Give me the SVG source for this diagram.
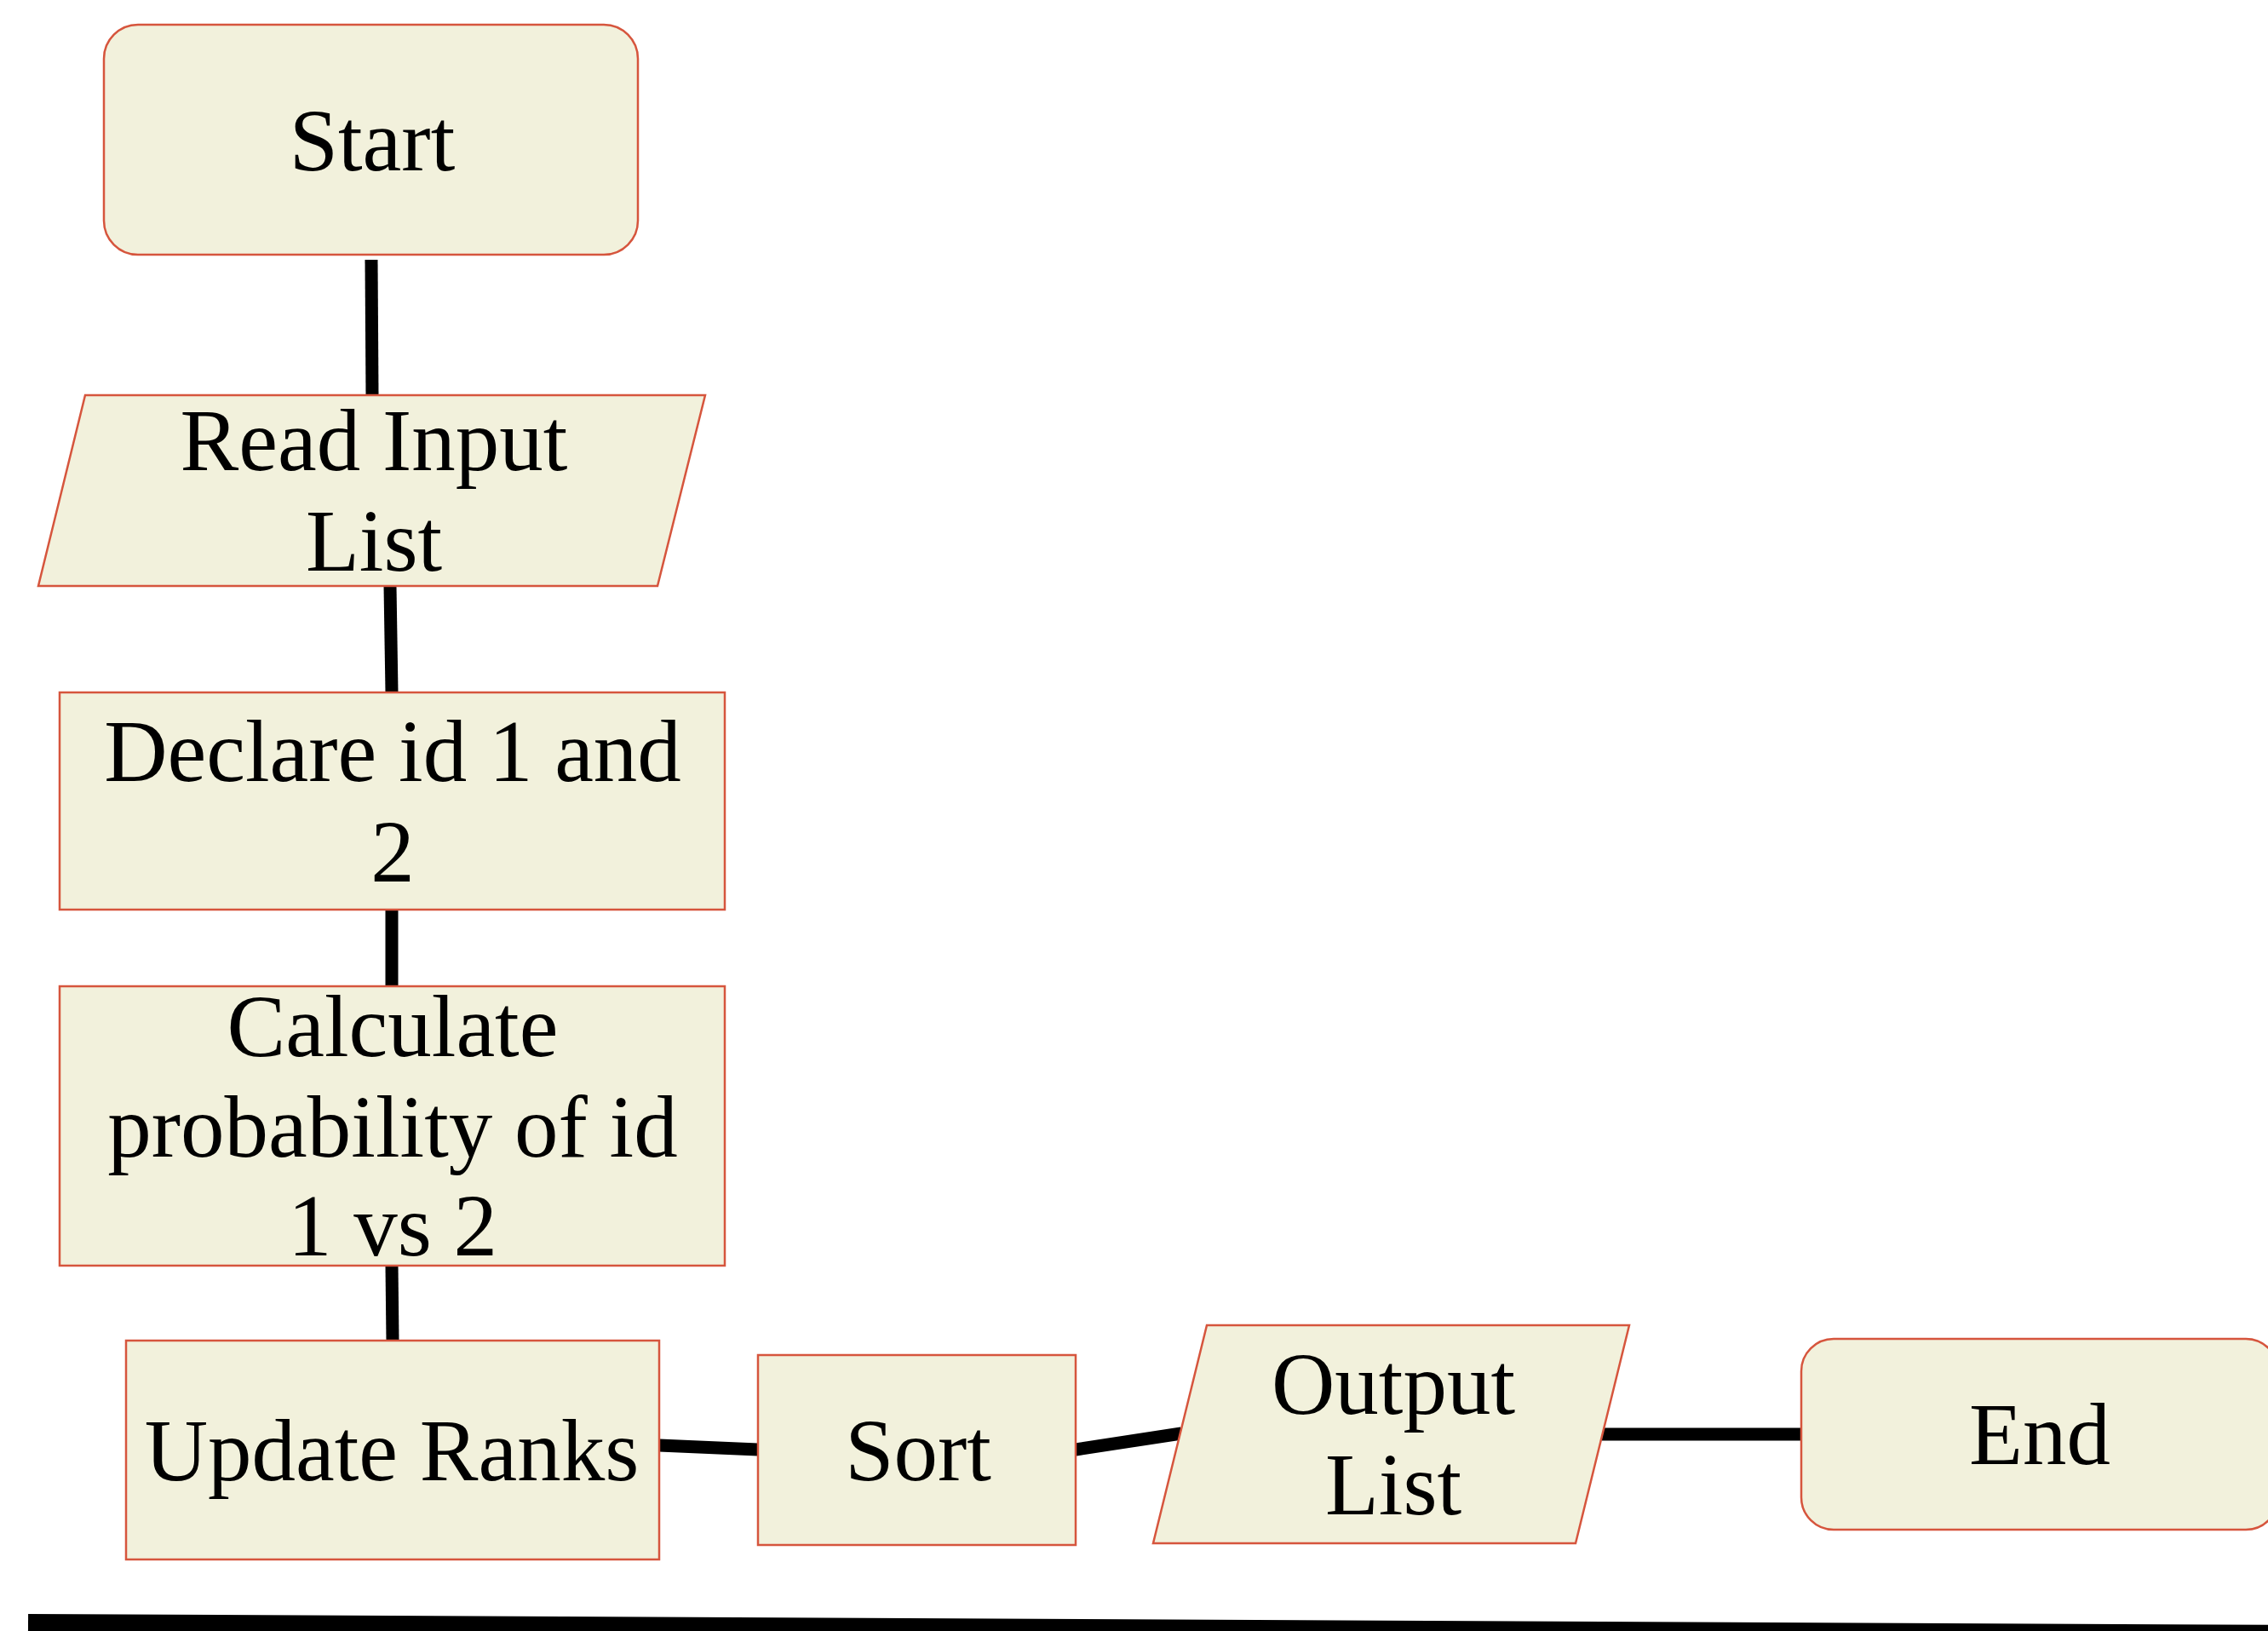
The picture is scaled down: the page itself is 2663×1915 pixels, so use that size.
<svg xmlns="http://www.w3.org/2000/svg" width="2663" height="1915" viewBox="0 0 2663 1915">
<style>
.n{fill:#F2F1DC;stroke:#D6553D;stroke-width:2.5}
.t{font-family:"Liberation Serif","Times New Roman",serif;font-size:103px;fill:#000;text-anchor:middle}
.c{stroke:#000;stroke-width:15;fill:none}
</style>
<rect width="2663" height="1915" fill="#fff"/>
<g id="connectors">
<line class="c" x1="436" y1="305" x2="437" y2="464"/>
<line class="c" x1="458" y1="688" x2="460" y2="813"/>
<line class="c" x1="460" y1="1068" x2="460" y2="1158"/>
<line class="c" x1="460" y1="1486" x2="461" y2="1574"/>
<line class="c" x1="774" y1="1697" x2="890" y2="1702"/>
<line class="c" x1="1263" y1="1702" x2="1387" y2="1683"/>
<line class="c" x1="1881" y1="1684" x2="2115" y2="1684"/>
<line stroke="#000" stroke-width="30" x1="33" y1="1910" x2="2700" y2="1923"/>
</g>
<g id="start">
<rect class="n" x="122" y="29" width="627" height="270" rx="40" ry="40"/>
<text class="t" x="437" y="200">Start</text>
</g>
<g id="read">
<polygon class="n" points="100,464 828,464 772,688 45,688"/>
<text class="t" x="439" y="552">Read Input</text>
<text class="t" x="439" y="670">List</text>
</g>
<g id="declare">
<rect class="n" x="70" y="813" width="781" height="255"/>
<text class="t" x="461" y="917">Declare id 1 and</text>
<text class="t" x="461" y="1035">2</text>
</g>
<g id="calc">
<rect class="n" x="70" y="1158" width="781" height="328"/>
<text class="t" x="461" y="1240">Calculate</text>
<text class="t" x="461" y="1358">probability of id</text>
<text class="t" x="461" y="1474">1 vs 2</text>
</g>
<g id="update">
<rect class="n" x="148" y="1574" width="626" height="257"/>
<text class="t" x="460" y="1738">Update Ranks</text>
</g>
<g id="sort">
<rect class="n" x="890" y="1591" width="373" height="223"/>
<text class="t" x="1078" y="1738">Sort</text>
</g>
<g id="output">
<polygon class="n" points="1417,1556 1913,1556 1850,1812 1354,1812"/>
<text class="t" x="1636" y="1660">Output</text>
<text class="t" x="1636" y="1778">List</text>
</g>
<g id="end">
<rect class="n" x="2115" y="1572" width="560" height="224" rx="38" ry="38"/>
<text class="t" x="2395" y="1719">End</text>
</g>
</svg>
